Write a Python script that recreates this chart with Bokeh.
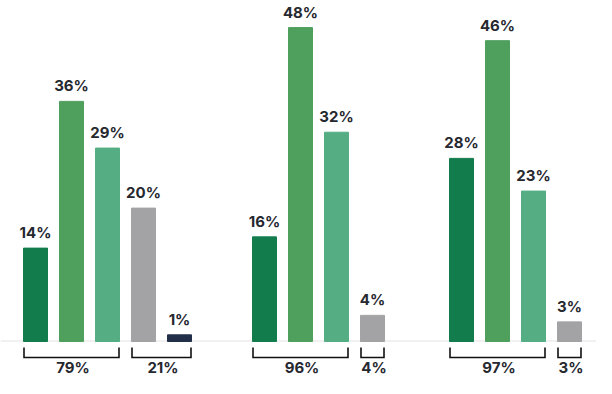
from bokeh.plotting import figure
from bokeh.models import Range1d, ColumnDataSource
from bokeh.core.properties import value
from bokeh.embed import file_html
from bokeh.resources import INLINE

# ---- data ----
group1_values = [14, 36, 29, 20, 1]
group2_values = [16, 48, 32, 4]
group3_values = [28, 46, 23, 3]
bar_colors = ["#127c4d", "#4f9f5d", "#55ae83", "#a3a3a5", "#232e4b"]
bracket_sizes = [[3, 2], [3, 1], [3, 1]]
bracket_labels = [["79%", "21%"], ["96%", "4%"], ["97%", "3%"]]

# ---- layout constants ----
W, H = 596, 378
BASE = 341                  # baseline (canvas px from top)
group_left = [23, 252, 449]  # left edge of first bar of each group (px)
STEP, BW = 36, 24
scales = [6.67, 6.54, 6.54]  # px per percent for each group
TXT = "#26282f"
FONT = value("Inter")

p = figure(width=W, height=H, x_range=Range1d(0, W),
           y_range=Range1d(-(H - BASE) / scales[1], BASE / scales[1]),
           output_backend="svg", toolbar_location=None, min_border=0,
           x_axis_location=None, y_axis_location=None)
p.extra_y_ranges = {
    "g1": Range1d(-(H - BASE) / scales[0], BASE / scales[0]),
    "px": Range1d(H, 0),
}
p.grid.visible = False
p.outline_line_color = None
p.background_fill_color = "white"
p.border_fill_color = "white"

# baseline
p.segment(x0=[0], x1=[W], y0=[BASE - 0.5], y1=[BASE - 0.5],
          y_range_name="px", line_color="#e4e4e4", line_width=1.2)

all_groups = [group1_values, group2_values, group3_values]
for gi, vals in enumerate(all_groups):
    rng = "g1" if gi == 0 else "default"
    xs = [group_left[gi] + BW / 2 + STEP * i for i in range(len(vals))]
    src = ColumnDataSource(dict(x=xs, top=vals, color=bar_colors[:len(vals)],
                                label=[f"{v}%" for v in vals]))
    p.vbar(x="x", top="top", bottom=0, width=BW, color="color", source=src,
           y_range_name=rng)
    p.text(x="x", y="top", text="label", source=src, y_range_name=rng,
           text_align="center", text_baseline="middle", y_offset=-15.5,
           text_font=FONT, text_font_style="bold",
           text_font_size="15px", text_color=TXT)

    # brackets
    start = 0
    bxs, bys, lx, lt = [], [], [], []
    for k, n in enumerate(bracket_sizes[gi]):
        left = group_left[gi] + STEP * start
        right = group_left[gi] + STEP * (start + n - 1) + BW
        bxs.append([left + 0.5, left + 0.5, right - 0.5, right - 0.5])
        bys.append([347, 357, 357, 347])
        lx.append((left + right) / 2 + 1.5)
        lt.append(bracket_labels[gi][k])
        start += n
    p.multi_line(xs=bxs, ys=bys, y_range_name="px", line_color="#111111",
                 line_width=1.6, line_join="miter")
    p.text(x=lx, y=[367] * len(lx), text=lt, y_range_name="px",
           text_align="center", text_baseline="middle",
           text_font=FONT, text_font_style="bold",
           text_font_size="15px", text_color=TXT)

open("out.html", "w").write(file_html(p, INLINE))
